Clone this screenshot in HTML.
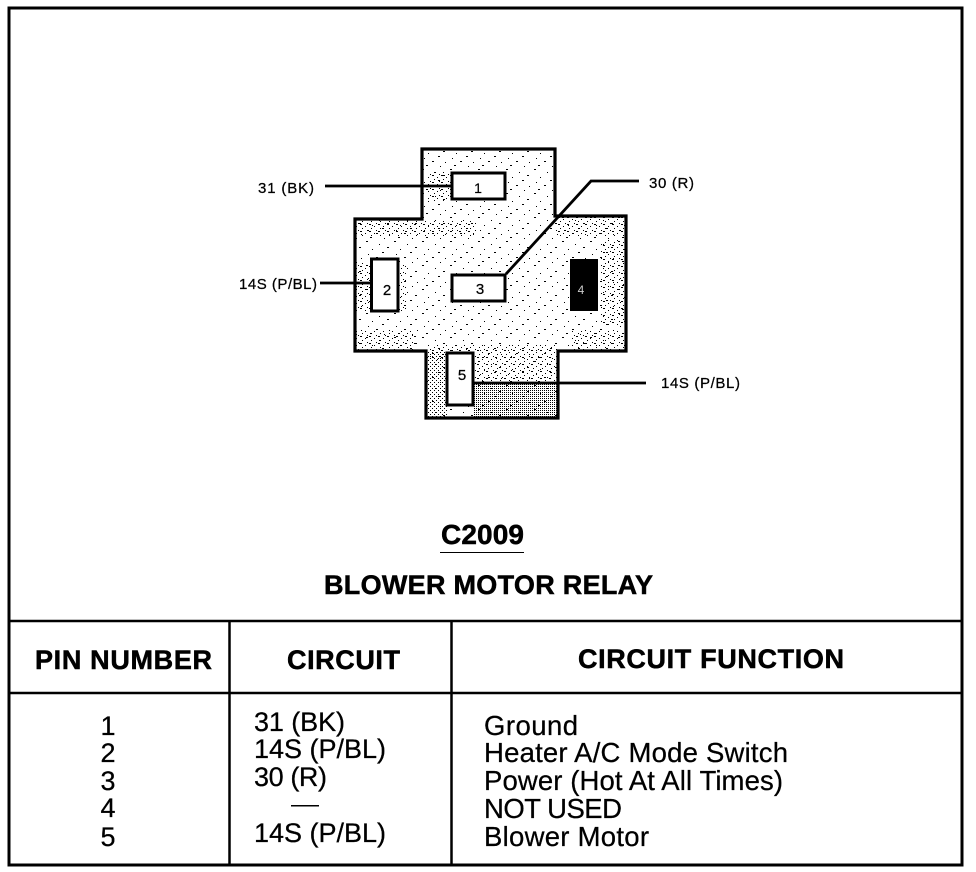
<!DOCTYPE html>
<html><head><meta charset="utf-8"><style>
html,body{margin:0;padding:0;background:#fff}
svg{display:block}
text{font-family:"Liberation Sans",sans-serif;fill:#000}
.b{font-weight:bold;stroke:#000;stroke-width:.5px}
.m{stroke:#000;stroke-width:.25px}
</style></head><body>
<svg width="976" height="872" viewBox="0 0 976 872" xmlns="http://www.w3.org/2000/svg">
<defs>
<pattern id="d" width="28" height="24" patternUnits="userSpaceOnUse">
<g fill="#000">
<rect x="2" y="1" width="2" height="1"/><rect x="15" y="4" width="1" height="1"/><rect x="23" y="7" width="2" height="1"/>
<rect x="8" y="9" width="1" height="1"/><rect x="18" y="12" width="2" height="1"/><rect x="4" y="14" width="1" height="1"/>
<rect x="12" y="17" width="2" height="1"/><rect x="25" y="18" width="1" height="1"/><rect x="20" y="22" width="1" height="1"/><rect x="6" y="21" width="2" height="1"/>
</g>
</pattern>
<pattern id="f" width="9" height="7" patternUnits="userSpaceOnUse">
<g fill="#000"><rect x="0" y="0" width="2" height="1"/><rect x="5" y="2" width="1" height="1"/><rect x="2" y="4" width="1" height="1"/><rect x="7" y="6" width="1" height="1"/></g>
</pattern>
<pattern id="e" width="2" height="2" patternUnits="userSpaceOnUse">
<rect x="0" y="0" width="1" height="1" fill="#000"/>
</pattern>
<pattern id="g" width="4" height="4" patternUnits="userSpaceOnUse">
<rect x="0" y="0" width="1" height="1" fill="#000"/><rect x="2" y="2" width="1" height="1" fill="#000"/>
</pattern>
</defs>
<rect width="976" height="872" fill="#fff"/>
<!-- frame -->
<path d="M9 8H962V865H9Z" fill="none" stroke="#000" stroke-width="3"/>
<path d="M9 621H962M9 693H962M229.5 621V865M451.5 621V865" fill="none" stroke="#000" stroke-width="2.5"/>
<!-- cross -->
<path d="M422 149H555V216H626V351H558V418H426V351H355V219H422Z" fill="url(#d)"/>
<rect x="356" y="220" width="120" height="16" fill="url(#f)"/>
<rect x="556" y="217" width="69" height="20" fill="url(#f)"/>
<rect x="600" y="240" width="25" height="85" fill="url(#f)"/>
<rect x="356" y="262" width="50" height="50" fill="url(#f)"/>
<rect x="356" y="330" width="60" height="20" fill="url(#f)"/>
<rect x="570" y="330" width="55" height="20" fill="url(#f)"/>
<rect x="426" y="172" width="25" height="30" fill="url(#f)"/>
<rect x="430" y="345" width="128" height="15" fill="url(#f)"/>
<rect x="475" y="352" width="82" height="32" fill="url(#f)"/>
<rect x="474" y="384" width="84" height="34" fill="url(#e)"/>
<rect x="427" y="352" width="20" height="66" fill="url(#g)"/>
<path d="M422 149H555V216H626V351H558V418H426V351H355V219H422Z" fill="none" stroke="#000" stroke-width="3.2"/>
<!-- wires -->
<path d="M325 186H451M320 283H371M474 383H646M506 274L591 181H639" fill="none" stroke="#000" stroke-width="2.8"/>
<!-- pins -->
<g fill="#fff" stroke="#000" stroke-width="3">
<rect x="452" y="173" width="53" height="26"/>
<rect x="371.5" y="259" width="26.5" height="52"/>
<rect x="452" y="275" width="53" height="26"/>
<rect x="447" y="353" width="26" height="52"/>
</g>
<rect x="570" y="259" width="28" height="52" fill="#000"/>
<g text-anchor="middle">
<text x="478" y="193" font-size="14" class="m">1</text>
<text x="387" y="295" font-size="15" class="m">2</text>
<text x="480" y="294" font-size="15" class="m">3</text>
<text x="581" y="294" style="fill:#ccc" font-size="12">4</text>
<text x="462" y="380" font-size="15" class="m">5</text>
</g>
<g font-size="15" class="m">
<text x="258" y="193" textLength="56">31 (BK)</text>
<text x="239" y="289" textLength="78">14S (P/BL)</text>
<text x="649" y="188" textLength="45">30 (R)</text>
<text x="661" y="388" textLength="79">14S (P/BL)</text>
</g>
<!-- titles -->
<text x="441" y="544" font-size="28" class="b" textLength="83">C2009</text>
<rect x="440" y="552" width="84" height="1" fill="#000"/>
<text x="324" y="594" font-size="27" class="b" textLength="329">BLOWER MOTOR RELAY</text>
<!-- header -->
<g font-size="27" class="b">
<text x="35" y="669" textLength="177">PIN NUMBER</text>
<text x="287" y="669" textLength="113">CIRCUIT</text>
<text x="578" y="668" textLength="266">CIRCUIT FUNCTION</text>
</g>
<!-- rows -->
<g font-size="27" text-anchor="middle" class="m">
<text x="108" y="735">1</text>
<text x="108" y="762">2</text>
<text x="108" y="790">3</text>
<text x="108" y="817">4</text>
<text x="108" y="846">5</text>
</g>
<g font-size="27" class="m">
<text x="254" y="731" textLength="91">31 (BK)</text>
<text x="254" y="758" textLength="132">14S (P/BL)</text>
<text x="254" y="786" textLength="73">30 (R)</text>
<text x="254" y="842" textLength="132">14S (P/BL)</text>
</g>
<g font-size="27.5" class="m">
<text x="484" y="735" textLength="94">Ground</text>
<text x="484" y="762" textLength="304">Heater A/C Mode Switch</text>
<text x="484" y="790" textLength="299">Power (Hot At All Times)</text>
<text x="484" y="818" textLength="138">NOT USED</text>
<text x="484" y="846" textLength="165">Blower Motor</text>
</g>
<rect x="291" y="805" width="28" height="1.5" fill="#000"/>
</svg>
</body></html>
